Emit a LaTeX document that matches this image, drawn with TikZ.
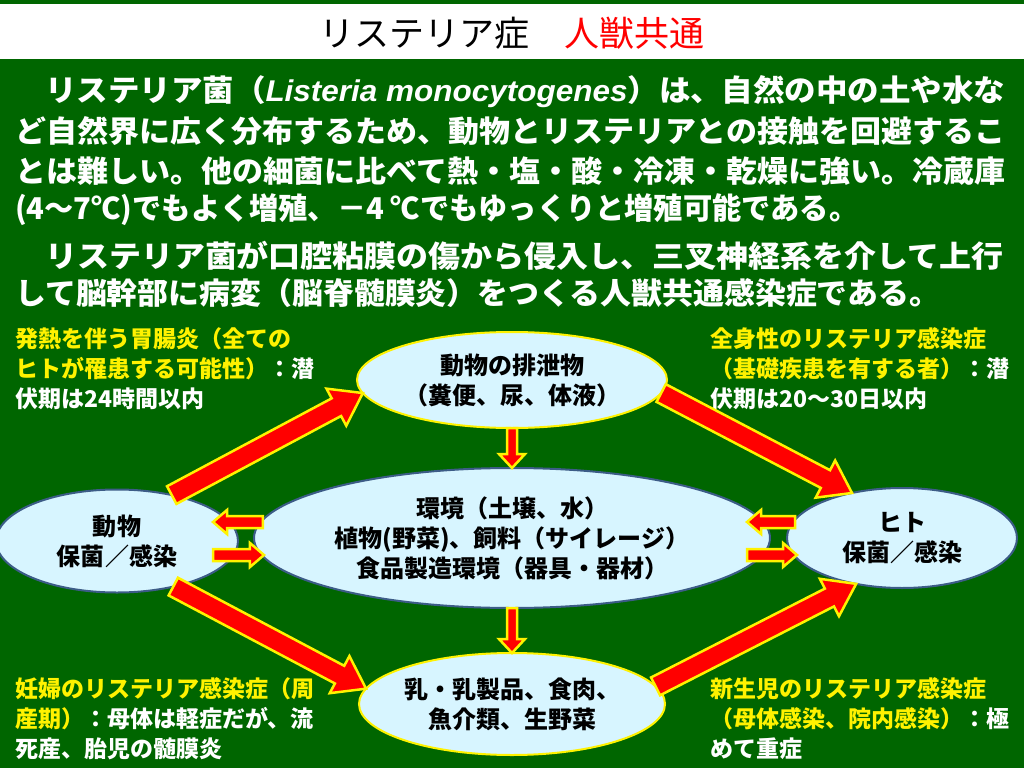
\documentclass[tikz,border=0pt]{standalone}
\usepackage{fontspec}
\setmainfont{Noto Sans CJK JP}
\newfontfamily\latinfont{Liberation Sans}
\usetikzlibrary{calc,shapes.geometric}
\tikzset{x=1bp,y=-1bp}
\definecolor{slideGreen}{RGB}{0,102,0}
\definecolor{ellFill}{RGB}{215,245,255}
\definecolor{ellEdge}{RGB}{60,92,135}
\def\shaft{10bp}
\def\head{21bp}
\def\headlen{30bp}

\tikzset{
  Ell/.style={ellipse, fill=ellFill, inner sep=0pt, outer sep=0pt, text=black, align=center,
    font=\fontsize{24bp}{30bp}\selectfont\bfseries},
  EllY/.style={Ell, draw=yellow, line width=2bp},
  EllB/.style={Ell, draw=ellEdge, line width=2bp},
  BodyLine/.style={anchor=west, inner sep=0pt, text=white, font=\fontsize{30bp}{39bp}\selectfont\bfseries},
  Note/.style={anchor=north west, inner sep=0pt, text=white, align=left,
    font=\fontsize{23bp}{30bp}\selectfont\bfseries},
  RedArrow/.style={fill=red, draw=yellow, line width=2.5bp, line join=miter},
}

% block arrow #1 -> #2, half shaft #3, half head #4, head length #5
\newcommand\blockarrow[5]{%
  \coordinate (hb) at ($(#2)!#5!(#1)$);
  \draw[RedArrow] ($(#1)!#3!90:(#2)$) -- ($(hb)!#3!90:(#2)$) -- ($(hb)!#4!90:(#2)$) -- (#2)
    -- ($(hb)!#4!-90:(#2)$) -- ($(hb)!#3!-90:(#2)$) -- ($(#1)!#3!-90:(#2)$) -- cycle;
}

\begin{document}
\begin{tikzpicture}

\fill[slideGreen] (0,0) rectangle (1024,768);
\fill[white] (0,4) rectangle (1024,59);
\useasboundingbox (0,0) rectangle (1024,768);

\node (title) at (512,33) {\fontsize{35bp}{35bp}\selectfont リステリア症　\textcolor{red}{人獣共通}};

%% body text, one node per line
\node[BodyLine] (l1) at (45,92) {\resizebox{960bp}{\height}{リステリア菌（{\latinfont\bfseries\itshape Listeria monocytogenes}）は、自然の中の土や水な}};
\node[BodyLine] (l2) at (15,131) {\resizebox{990bp}{\height}{ど自然界に広く分布するため、動物とリステリアとの接触を回避するこ}};
\node[BodyLine] (l3) at (15,171) {\resizebox{990bp}{\height}{とは難しい。他の細菌に比べて熱・塩・酸・冷凍・乾燥に強い。冷蔵庫}};
\node[BodyLine] (l4) at (15,210) {\resizebox{843bp}{\height}{(4〜7℃)でもよく増殖、－4 ℃でもゆっくりと増殖可能である。}};
\node[BodyLine] (l5) at (45,256) {\resizebox{958bp}{\height}{リステリア菌が口腔粘膜の傷から侵入し、三叉神経系を介して上行}};
\node[BodyLine] (l6) at (15,293) {\resizebox{925bp}{\height}{して脳幹部に病変（脳脊髄膜炎）をつくる人獣共通感染症である。}};

%% notes in the corners
\node[Note] (noteTL) at (15,327) {\textcolor{yellow}{発熱を伴う胃腸炎（全ての}\\\textcolor{yellow}{ヒトが罹患する可能性）}：潜\\伏期は24時間以内};
\node[Note] (noteTR) at (710,327) {\textcolor{yellow}{全身性のリステリア感染症}\\\textcolor{yellow}{（基礎疾患を有する者）}：潜\\伏期は20～30日以内};
\node[Note] (noteBL) at (15,677) {\textcolor{yellow}{妊婦のリステリア感染症（周}\\\textcolor{yellow}{産期）}：母体は軽症だが、流\\死産、胎児の髄膜炎};
\node[Note] (noteBR) at (710,677) {\textcolor{yellow}{新生児のリステリア感染症}\\\textcolor{yellow}{（母体感染、院内感染）}：極\\めて重症};

%% ellipses
\node[EllY, minimum width=310bp, minimum height=96bp] (excreta) at (512,380) {動物の排泄物\\（糞便、尿、体液）};
\node[EllB, minimum width=516bp, minimum height=140bp] (env) at (512,538) {環境（土壌、水）\\植物(野菜)、飼料（サイレージ）\\食品製造環境（器具・器材）};
\node[EllB, minimum width=242bp, minimum height=103bp] (animal) at (117,541) {動物\\保菌／感染};
\node[EllB, minimum width=230bp, minimum height=100bp] (human) at (902,538) {ヒト\\保菌／感染};
\node[EllY, minimum width=306bp, minimum height=102bp] (food) at (512,704) {乳・乳製品、食肉、\\魚介類、生野菜};

%% big arrows
\blockarrow{animal.40}{excreta.185}{\shaft}{\head}{\headlen}
\blockarrow{excreta.-5}{human.138}{\shaft}{\head}{\headlen}
\blockarrow{animal.-39}{food.174}{\shaft}{\head}{\headlen}
\blockarrow{food.7}{human.225}{\shaft}{\head}{\headlen}

\blockarrow{excreta.south}{env.north}{5bp}{13bp}{14bp}
\blockarrow{env.south}{food.north}{5bp}{13bp}{14bp}

%% short arrows on both sides of env
\coordinate (envWa) at ($(env.west)+(9,-16)$);
\coordinate (envWb) at ($(env.west)+(10,17)$);
\coordinate (aniEa) at ($(animal.east)+(-25,-19)$);
\coordinate (aniEb) at ($(animal.east)+(-25,14)$);
\coordinate (envEa) at ($(env.east)+(-23,-16)$);
\coordinate (envEb) at ($(env.east)+(-23,17)$);
\coordinate (humWa) at ($(human.west)+(8,-16)$);
\coordinate (humWb) at ($(human.west)+(10,17)$);

\blockarrow{envWa}{aniEa}{6bp}{12bp}{14bp}
\blockarrow{aniEb}{envWb}{6bp}{12bp}{14bp}
\blockarrow{humWa}{envEa}{6bp}{12bp}{14bp}
\blockarrow{envEb}{humWb}{6bp}{12bp}{14bp}

\end{tikzpicture}
\end{document}
